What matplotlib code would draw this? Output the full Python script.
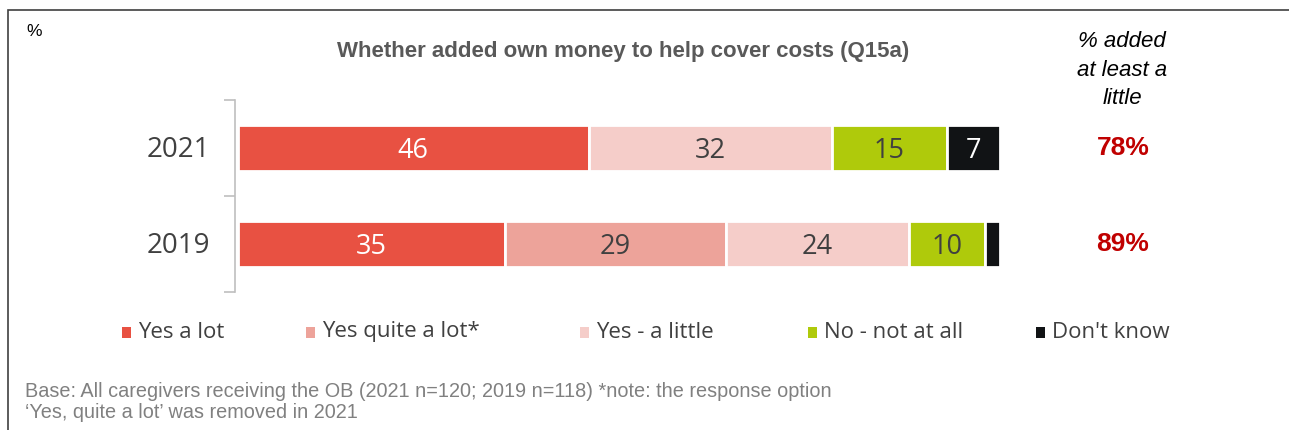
import matplotlib.pyplot as plt
from matplotlib.patches import Rectangle

years = ['2019', '2021']
categories = ['Yes a lot', 'Yes quite a lot*', 'Yes - a little', 'No - not at all', "Don't know"]
values_2019 = [35, 29, 24, 10, 2]
values_2021 = [46, 0, 32, 15, 7]
added_pct = ['89%', '78%']
colors = ['#E85142', '#EDA39A', '#F5CDC9', '#AFCA0B', '#111315']
label_colors = ['white', '#404040', '#404040', '#404040', 'white']

W, H = 1289, 430
fig = plt.figure(figsize=(W / 100, H / 100), dpi=100)

# frame round the chart
fig.patches.append(Rectangle((8 / W, -0.05), 1.1, (H - 10) / H + 0.05, transform=fig.transFigure,
                             fill=False, edgecolor='#404040', linewidth=1.2))

ax = fig.add_axes([238 / W, (H - 292) / H, 762 / W, 192 / H])
rows = [values_2019, values_2021]
for i, vals in enumerate(rows):
    left = 0
    for j, v in enumerate(vals):
        if v == 0:
            continue
        ax.barh(i, v, left=left, height=0.47, color=colors[j], edgecolor='white', linewidth=2)
        if v >= 5:
            ax.text(left + v / 2, i - 0.03, str(v), ha='center', va='center', fontsize=19.5,
                    family='Open Sans', color=label_colors[j])
        left += v

ax.set_xlim(0, 100)
ax.set_ylim(-0.5, 1.5)
ax.set_xticks([])
ax.set_yticks([-0.5, 0.5, 1.5])
ax.set_yticklabels([])
ax.tick_params(axis='y', length=8, color='#BFBFBF', width=1.2)
for s in ['top', 'right', 'bottom']:
    ax.spines[s].set_visible(False)
ax.spines['left'].set_color('#BFBFBF')
ax.spines['left'].set_linewidth(1.2)
ax.spines['left'].set_position(('outward', 2))

for i, y in enumerate(years):
    ax.text(-3.6, i - 0.02, y, ha='right', va='center', fontsize=20, family='Open Sans', color='#404040')
    ax.text(1.0 + 123 / 762, i, added_pct[i], transform=ax.get_yaxis_transform(), ha='center',
            va='center', fontsize=19, fontweight='bold', family='Liberation Sans', color='#C00000')

fig.text(26 / W, 1 - 32 / H, '%', fontsize=12.5, family='Liberation Sans', color='black', va='center')
fig.text(623 / W, 1 - 52 / H, 'Whether added own money to help cover costs (Q15a)', ha='center',
         va='center', fontsize=16, fontweight='bold', family='Liberation Sans', color='#595959')
fig.text(1122 / W, 1 - 70 / H, '% added\nat least a\nlittle', ha='center', va='center', fontsize=16,
         style='italic', family='Liberation Sans', color='black', linespacing=1.45)

legend_x = [122, 306, 580, 808, 1036]
for x, c, lab in zip(legend_x, colors, categories):
    fig.patches.append(Rectangle((x / W, 1 - 338 / H), 9 / W, 11 / H, transform=fig.transFigure,
                                 facecolor=c, edgecolor='none'))
    fig.text((x + 16) / W, 1 - 332 / H, lab, fontsize=16, family='Open Sans', color='#404040', va='center')

fig.text(25 / W, 1 - 402 / H,
         "Base: All caregivers receiving the OB (2021 n=120; 2019 n=118) *note: the response option\n"
         "\u2018Yes, quite a lot\u2019 was removed in 2021",
         fontsize=14.3, family='Liberation Sans', color='#808080', va='center', linespacing=1.15)

fig.savefig('out.png', dpi=100)
